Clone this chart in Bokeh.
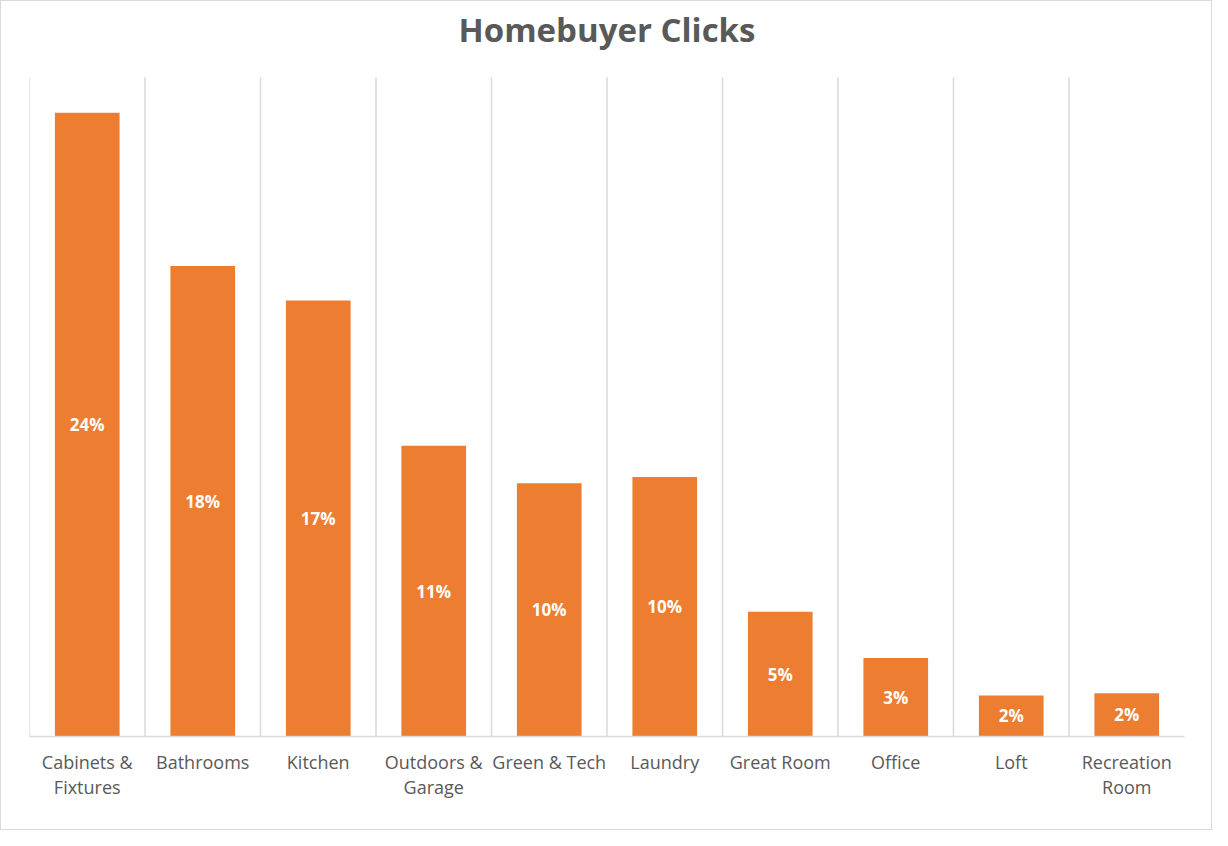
from bokeh.plotting import figure
from bokeh.models import ColumnDataSource, Range1d, LinearAxis, FixedTicker
from bokeh.core.properties import value
from bokeh.embed import file_html
from bokeh.resources import INLINE

categories = ["Cabinets & Fixtures", "Bathrooms", "Kitchen", "Outdoors & Garage",
              "Green & Tech", "Laundry", "Great Room", "Office", "Loft", "Recreation Room"]
tick_line1 = ["Cabinets &", "Bathrooms", "Kitchen", "Outdoors &", "Green & Tech",
              "Laundry", "Great Room", "Office", "Loft", "Recreation"]
tick_line2 = ["Fixtures", "", "", "Garage", "", "", "", "", "", "Room"]
clicks_pct = [23.66, 17.85, 16.54, 11.03, 9.61, 9.84, 4.73, 2.98, 1.56, 1.64]
value_axis_max = 25

FONT = "Open Sans"
GREY = "#595959"
GRID = "#d9d9d9"

n = len(categories)
centers = [i + 0.5 for i in range(n)]

src = ColumnDataSource(dict(
    x=centers,
    val=clicks_pct,
    mid=[v / 2 for v in clicks_pct],
    lab=["%d%%" % round(v) for v in clicks_pct],
))

# frame: value 0 at 735px, value 25 at 76px from the figure top; frame extends to the top
H, W = 830, 1212
base_px, top_px = 735, 76
ppu = (base_px - top_px) / value_axis_max
y_top = value_axis_max + top_px / ppu

p = figure(width=W, height=H, output_backend="svg", toolbar_location=None,
           x_range=Range1d(0, n), y_range=Range1d(0, y_top),
           min_border_left=28, min_border_right=29, min_border_top=0,
           min_border_bottom=H - base_px, x_axis_type=None, y_axis_type=None)
p.styles = {"border": "1px solid #d9d9d9", "box-sizing": "border-box"}
p.outline_line_color = None
p.grid.visible = False

# title drawn inside the extended frame
p.text(x=[n / 2], y=[value_axis_max + (top_px - 28) / ppu], text=["Homebuyer Clicks"],
       text_align="center", text_baseline="middle", text_color=GREY,
       text_font=value(FONT), text_font_style="bold", text_font_size="33px")

# vertical gridlines at category boundaries
p.segment(x0=list(range(n)), x1=list(range(n)), y0=[0] * n, y1=[value_axis_max] * n,
          line_color=GRID, line_width=1.5)

p.vbar(x="x", top="val", width=0.56, source=src, fill_color="#ED7D31", line_color=None)
p.text(x="x", y="mid", text="lab", source=src, text_align="center", text_baseline="middle",
       text_color="white", text_font=value(FONT), text_font_style="bold", text_font_size="17px")


def make_axis(labels, standoff, line):
    ax = LinearAxis(ticker=FixedTicker(ticks=centers),
                    major_label_overrides={c: t for c, t in zip(centers, labels)})
    ax.axis_line_color = GRID if line else None
    ax.axis_line_width = 1.5
    ax.major_tick_line_color = None
    ax.minor_tick_line_color = None
    ax.major_label_text_font = FONT
    ax.major_label_text_font_size = "18px"
    ax.major_label_text_color = GREY
    ax.major_label_standoff = standoff
    return ax


p.add_layout(make_axis(tick_line1, 7, True), "below")
p.add_layout(make_axis(tick_line2, -8, False), "below")

open("out.html", "w").write(file_html(p, INLINE))
